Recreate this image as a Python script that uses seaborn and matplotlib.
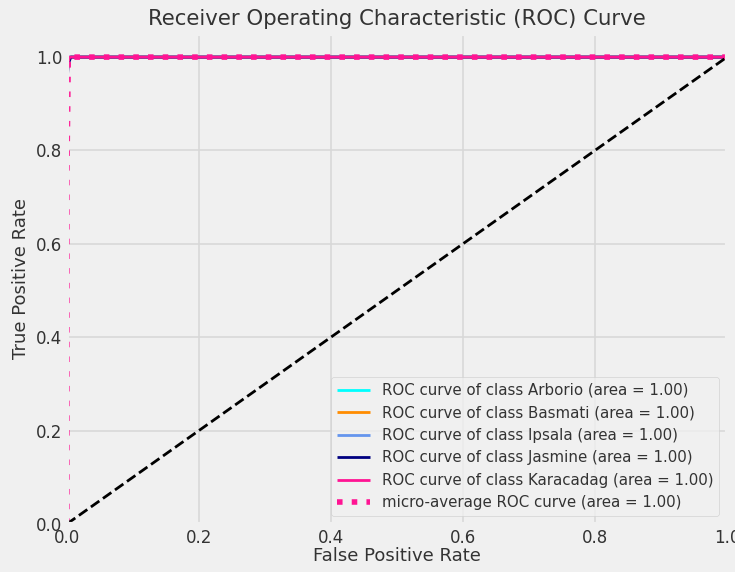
import matplotlib
matplotlib.use("Agg")
import matplotlib.pyplot as plt
import numpy as np
import pandas as pd
import seaborn as sns

# ROC points (fpr, tpr) per class
class_names = ["Arborio", "Basmati", "Ipsala", "Jasmine", "Karacadag"]
class_colors = ["aqua", "darkorange", "cornflowerblue", "navy", "deeppink"]
class_auc = [1.00, 1.00, 1.00, 1.00, 1.00]

fpr_arborio = [0.0, 0.0, 0.002, 0.005, 1.0]
tpr_arborio = [0.0, 0.96, 0.99, 1.0, 1.0]
fpr_basmati = [0.0, 0.0, 0.003, 0.006, 1.0]
tpr_basmati = [0.0, 0.97, 0.995, 1.0, 1.0]
fpr_ipsala = [0.0, 0.0, 0.001, 0.003, 1.0]
tpr_ipsala = [0.0, 0.98, 0.997, 1.0, 1.0]
fpr_jasmine = [0.0, 0.0, 0.002, 0.006, 1.0]
tpr_jasmine = [0.0, 0.94, 0.985, 1.0, 1.0]
fpr_karacadag = [0.0, 0.0, 0.002, 0.004, 1.0]
tpr_karacadag = [0.0, 0.95, 0.99, 1.0, 1.0]

fpr_micro = [0.0, 0.0, 0.002, 0.006, 1.0]
tpr_micro = [0.0, 0.75, 0.99, 1.0, 1.0]
micro_auc = 1.00

diag = [0.0, 1.0]

plt.style.use("fivethirtyeight")
plt.rcParams["text.color"] = "#333333"
plt.rcParams["axes.labelcolor"] = "#333333"
plt.rcParams["xtick.color"] = "#333333"
plt.rcParams["ytick.color"] = "#333333"
plt.rcParams["grid.color"] = "#d8d8d8"
plt.rcParams["grid.linewidth"] = 1.2

fig, ax = plt.subplots(figsize=(7.35, 5.72), dpi=100)
fig.patch.set_facecolor("#f0f0f0")

fprs = [fpr_arborio, fpr_basmati, fpr_ipsala, fpr_jasmine, fpr_karacadag]
tprs = [tpr_arborio, tpr_basmati, tpr_ipsala, tpr_jasmine, tpr_karacadag]

for name, color, auc_val, fpr, tpr in zip(class_names, class_colors, class_auc, fprs, tprs):
    sns.lineplot(
        x=fpr, y=tpr, ax=ax, color=color, lw=2, sort=False, estimator=None,
        label=f"ROC curve of class {name} (area = {auc_val:.2f})",
    )

sns.lineplot(
    x=fpr_micro, y=tpr_micro, ax=ax, color="deeppink", lw=4, linestyle=":",
    sort=False, estimator=None,
    label=f"micro-average ROC curve (area = {micro_auc:.2f})",
)

ax.plot(diag, diag, "k--", lw=2)

ax.set_xlim([0.0, 1.0])
ax.set_ylim([0.0, 1.05])
ax.set_xlabel("False Positive Rate", fontsize=13, labelpad=0)
ax.set_ylabel("True Positive Rate", fontsize=13, labelpad=4)
ax.set_title("Receiver Operating Characteristic (ROC) Curve", fontsize=15.3)
ax.tick_params(labelsize=12, length=0, pad=3.5)
ax.legend(loc="lower right", fontsize=10.8, handlelength=2.2)

fig.subplots_adjust(left=0.091, right=0.989, bottom=0.084, top=0.941)
plt.savefig("out.png", dpi=100, facecolor=fig.get_facecolor())
